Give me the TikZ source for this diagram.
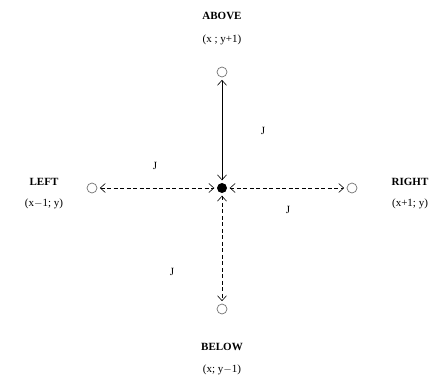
\documentclass[tikz,border=0pt]{standalone}
\usepackage{fontspec}
\setmainfont{Liberation Serif}
\usetikzlibrary{arrows.meta}
\begin{document}
\begin{tikzpicture}[x=1pt,y=-1pt,
  site/.style={circle,draw=black!55,line width=0.7pt,minimum size=10pt,inner sep=0pt},
  centre/.style={circle,fill=black,minimum size=10pt,inner sep=0pt},
  lbl/.style={font=\fontsize{11}{13}\selectfont,align=center,inner sep=0pt},
  jlbl/.style={font=\fontsize{11}{13}\selectfont,inner sep=0pt},
  link/.style={line width=0.8pt,{Straight Barb[length=5pt,width=9pt,line width=0.6pt]}-{Straight Barb[length=5pt,width=9pt,line width=0.6pt]},shorten <=2.5pt,shorten >=2.5pt},
  dlink/.style={link,dash pattern=on 4pt off 2.5pt}]
\useasboundingbox (0,0) rectangle (443,383);
\node[centre] (c) at (222,188) {};
\node[site] (a) at (222,72) {};
\node[site] (b) at (222,309) {};
\node[site] (l) at (92,188) {};
\node[site] (r) at (352,188) {};
\node[lbl] (ta) at (222,16) {\textbf{ABOVE}};
\node[lbl] (ta2) at (222,40) {(x ; y+1)};
\node[lbl] (tb) at (222,347) {\textbf{BELOW}};
\node[lbl] (tb2) at (222,370) {(x; y$-$1)};
\node[lbl] (tl) at (44,182) {\textbf{LEFT}};
\node[lbl] (tl2) at (44,204) {(x$-$1; y)};
\node[lbl] (tr) at (410,182) {\textbf{RIGHT}};
\node[lbl] (tr2) at (410,204) {(x+1; y)};
\draw[link] (a) -- (c);
\draw[dlink] (l) -- (c);
\draw[dlink] (c) -- (r);
\draw[dlink] (c) -- (b);
\node[jlbl] (j1) at (263,131) {J};
\node[jlbl] (j2) at (155,166) {J};
\node[jlbl] (j3) at (288,210) {J};
\node[jlbl] (j4) at (172,272) {J};
\end{tikzpicture}
\end{document}
